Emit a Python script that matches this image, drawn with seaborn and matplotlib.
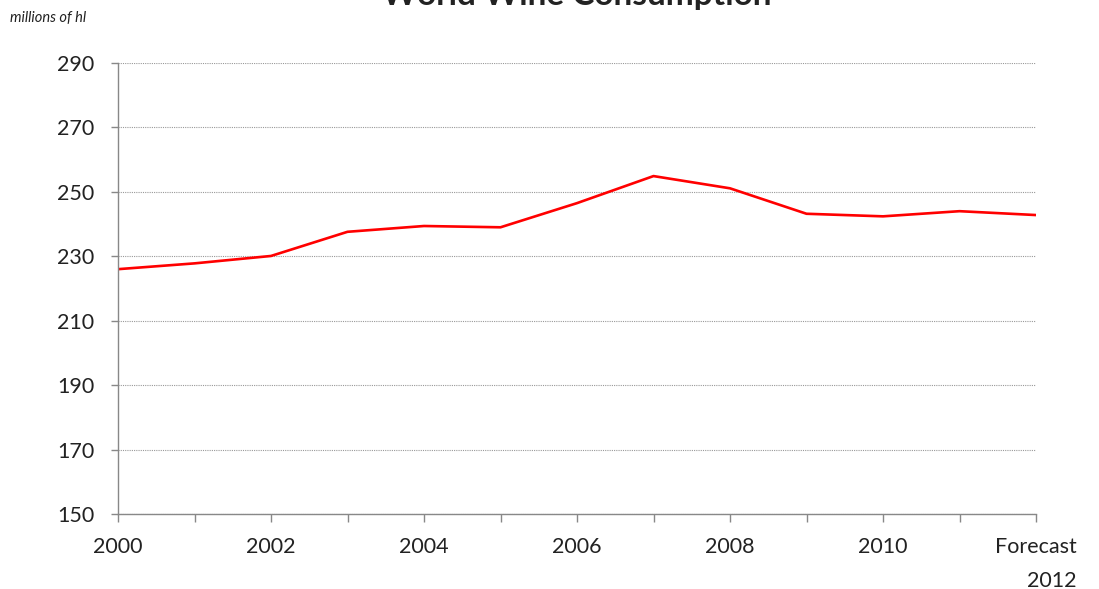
import matplotlib
matplotlib.use("Agg")
import matplotlib.pyplot as plt
import seaborn as sns
import pandas as pd

years = [2000, 2001, 2002, 2003, 2004, 2005, 2006, 2007, 2008, 2009, 2010, 2011, 2012]
consumption = [226.0, 227.8, 230.1, 237.6, 239.4, 239.0, 246.5, 254.9, 251.1, 243.2, 242.4, 244.0, 242.8]
x_tick_years = [2000, 2002, 2004, 2006, 2008, 2010, 2012]
x_tick_labels = ["2000", "2002", "2004", "2006", "2008", "2010", "Forecast\n2012"]
y_ticks = [150, 170, 190, 210, 230, 250, 270, 290]

sns.set_style("white")
plt.rcParams['font.family'] = ['Lato', 'DejaVu Sans']

df = pd.DataFrame({"year": years, "value": consumption})

fig = plt.figure(figsize=(10.99, 5.89), dpi=100)
ax = fig.add_axes([118/1099, 1-514/589, (1036-118)/1099, (514-63)/589])

sns.lineplot(data=df, x="year", y="value", ax=ax, color="#ff0000", linewidth=1.9)

ax.set_xlim(2000, 2012)
ax.set_ylim(150, 290)
ax.set_yticks(y_ticks)
ax.set_xticks(years, minor=False)
ax.set_xticklabels([""] * len(years))
for yr, lab in zip(x_tick_years, x_tick_labels):
    ax.text(yr, -0.052, lab, transform=ax.get_xaxis_transform(), ha="center", va="top",
            fontsize=15.5, color="#222222", multialignment="right" if "\n" in lab else "center",
            linespacing=1.85)
ax.set_xlabel("")
ax.set_ylabel("")

ax.grid(axis="y", linestyle=(0, (1, 1)), color="#999999", linewidth=0.8)
ax.grid(axis="x", visible=False)
for s in ["top", "right"]:
    ax.spines[s].set_visible(False)
for s in ["left", "bottom"]:
    ax.spines[s].set_color("#888888")
    ax.spines[s].set_linewidth(1.0)
ax.tick_params(axis="y", direction="out", length=5, width=1, color="#888888", labelsize=15.5,
               labelcolor="#222222", pad=12, left=True)
ax.tick_params(axis="x", direction="out", length=6, width=1, color="#888888", bottom=True)

fig.text(577/1099, 1-5/589, "World Wine Consumption", ha="center", va="baseline",
         fontsize=24, fontweight="bold", color="#222222")
fig.text(10/1099, 1-18/589, "millions of hl", ha="left", va="center",
         fontsize=10.5, fontstyle="italic", color="#222222")

fig.savefig("out.png", dpi=100)
